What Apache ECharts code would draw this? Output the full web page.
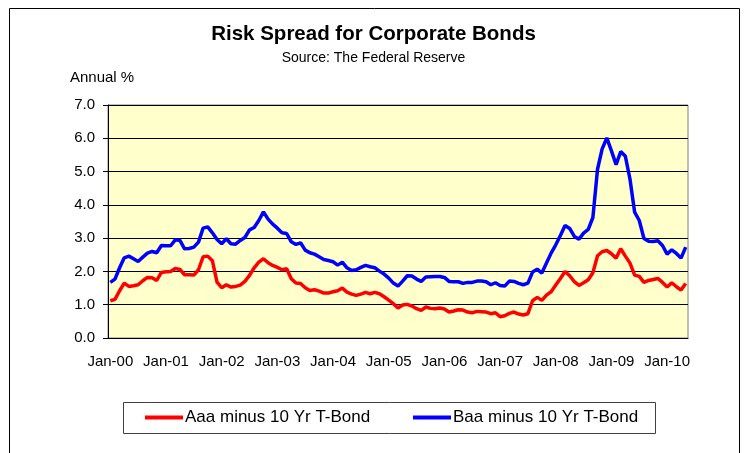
<!DOCTYPE html>
<html>
<head>
<meta charset="utf-8">
<script src="https://cdn.jsdelivr.net/npm/echarts@6/dist/echarts.min.js"></script>
<style>
html,body{margin:0;padding:0;background:#fff;}
#chart{width:747px;height:453px;}
</style>
</head>
<body>
<div id="chart"></div>
<script>
// Month / year parts of the category labels (Jan-00 ... May-10)
const monthNames = ['Jan','Feb','Mar','Apr','May','Jun','Jul','Aug','Sep','Oct','Nov','Dec'];
const yearLabels = ['00','01','02','03','04','05','06','07','08','09','10'];
const monthsInLastYear = 5;

// y-axis tick labels
const yTicks = [0, 1, 2, 3, 4, 5, 6, 7];

// Aaa minus 10 Yr T-Bond (annual %), monthly
const aaaSpread = [
  1.12,1.16,1.42,1.65,1.55,1.57,1.60,1.72,1.82,1.81,1.73,1.97,
  1.99,2.00,2.09,2.06,1.90,1.90,1.89,2.05,2.44,2.46,2.32,1.68,
  1.51,1.60,1.53,1.55,1.59,1.70,1.88,2.11,2.28,2.38,2.26,2.18,
  2.12,2.05,2.08,1.78,1.65,1.64,1.51,1.43,1.45,1.41,1.35,1.35,
  1.39,1.42,1.50,1.38,1.32,1.28,1.32,1.37,1.33,1.37,1.33,1.24,
  1.14,1.03,0.90,0.99,1.01,0.96,0.88,0.83,0.93,0.89,0.88,0.90,
  0.87,0.78,0.81,0.85,0.84,0.78,0.76,0.80,0.79,0.78,0.73,0.76,
  0.64,0.67,0.74,0.78,0.72,0.69,0.73,1.12,1.22,1.13,1.29,1.39,
  1.59,1.79,2.00,1.87,1.69,1.58,1.66,1.75,1.96,2.47,2.59,2.63,
  2.53,2.40,2.68,2.46,2.25,1.89,1.85,1.67,1.73,1.76,1.79,1.67,
  1.53,1.66,1.54,1.44,1.64
];

// Baa minus 10 Yr T-Bond (annual %), monthly
const baaSpread = [
  1.67,1.77,2.11,2.41,2.46,2.38,2.30,2.43,2.55,2.60,2.56,2.78,
  2.77,2.77,2.95,2.93,2.68,2.69,2.73,2.88,3.30,3.34,3.16,2.96,
  2.83,2.98,2.83,2.82,2.93,3.02,3.25,3.32,3.53,3.79,3.57,3.42,
  3.30,3.16,3.14,2.89,2.81,2.86,2.64,2.56,2.52,2.44,2.36,2.33,
  2.29,2.19,2.28,2.11,2.03,2.05,2.12,2.18,2.14,2.11,2.01,1.92,
  1.80,1.65,1.56,1.71,1.87,1.86,1.77,1.70,1.83,1.84,1.85,1.85,
  1.82,1.70,1.69,1.69,1.64,1.67,1.67,1.71,1.71,1.69,1.60,1.66,
  1.58,1.56,1.71,1.70,1.64,1.60,1.65,1.98,2.07,1.95,2.25,2.55,
  2.80,3.08,3.38,3.29,3.05,2.97,3.15,3.26,3.62,5.07,5.68,6.01,
  5.62,5.21,5.60,5.46,4.77,3.78,3.53,2.99,2.91,2.90,2.92,2.78,
  2.52,2.65,2.54,2.40,2.73
];

const seriesNames = ['Aaa minus 10 Yr T-Bond', 'Baa minus 10 Yr T-Bond'];

const categories = [];
yearLabels.forEach((y, i) => {
  const n = (i === yearLabels.length - 1) ? monthsInLastYear : 12;
  for (let m = 0; m < n; m++) categories.push(monthNames[m] + '-' + y);
});

const FONT = "'Liberation Sans', Arial, sans-serif";
const chart = echarts.init(document.getElementById('chart'), null, {renderer: 'canvas'});

const legendText = {fontFamily: FONT, fontSize: 17, color: '#000', padding: [0,0,0,-3]};

chart.setOption({
  animation: false,
  backgroundColor: '#ffffff',
  title: [
    {text: 'Risk Spread for Corporate Bonds', left: 'center', top: 19,
     textStyle: {fontFamily: FONT, fontSize: 20.5, fontWeight: 'bold', color: '#000'}},
    {text: 'Source: The Federal Reserve', left: 'center', top: 46,
     textStyle: {fontFamily: FONT, fontSize: 14, fontWeight: 'normal', color: '#000'}},
    {text: 'Annual %', left: 65, top: 65,
     textStyle: {fontFamily: FONT, fontSize: 15, fontWeight: 'normal', color: '#000'}}
  ],
  graphic: [
    {type: 'rect', shape: {x: 9.5, y: 8.5, width: 730, height: 470},
     style: {fill: 'none', stroke: '#000', lineWidth: 1}, z: 100},
    {type: 'rect', shape: {x: 123.5, y: 402.5, width: 532, height: 31},
     style: {fill: '#fff', stroke: '#404040', lineWidth: 1}, z: 0}
  ],
  legend: [
    {data: [seriesNames[0]], left: 145, top: 409, padding: 0, icon: 'rect',
     itemWidth: 38, itemHeight: 4, itemGap: 0, textStyle: legendText},
    {data: [seriesNames[1]], left: 413, top: 409, padding: 0, icon: 'rect',
     itemWidth: 38, itemHeight: 4, itemGap: 0, textStyle: legendText}
  ],
  grid: {left: 108, top: 105, width: 580, height: 233, show: true,
         backgroundColor: '#FFFFCC', borderColor: '#808080', borderWidth: 1},
  xAxis: {
    type: 'category', data: categories, boundaryGap: true,
    axisLine: {lineStyle: {color: '#000', width: 1}},
    axisTick: {interval: 11, length: 5, lineStyle: {color: '#000'}},
    axisLabel: {interval: 11, margin: 16, fontFamily: FONT, fontSize: 15, color: '#000'},
    splitLine: {show: false}
  },
  yAxis: {
    type: 'value', min: yTicks[0], max: yTicks[yTicks.length - 1], interval: 1,
    axisLine: {show: true, lineStyle: {color: '#000', width: 1}},
    axisTick: {show: true, length: 5, lineStyle: {color: '#000'}},
    axisLabel: {margin: 13, fontFamily: FONT, fontSize: 15, color: '#000',
                formatter: v => v.toFixed(1)},
    splitLine: {lineStyle: {color: '#000', width: 1}}
  },
  series: [
    {name: seriesNames[0], type: 'line', data: aaaSpread, symbol: 'none',
     lineStyle: {color: '#FF0000', width: 3.5}, itemStyle: {color: '#FF0000'}},
    {name: seriesNames[1], type: 'line', data: baaSpread, symbol: 'none',
     lineStyle: {color: '#0000FF', width: 3.5}, itemStyle: {color: '#0000FF'}}
  ]
});
</script>
</body>
</html>
